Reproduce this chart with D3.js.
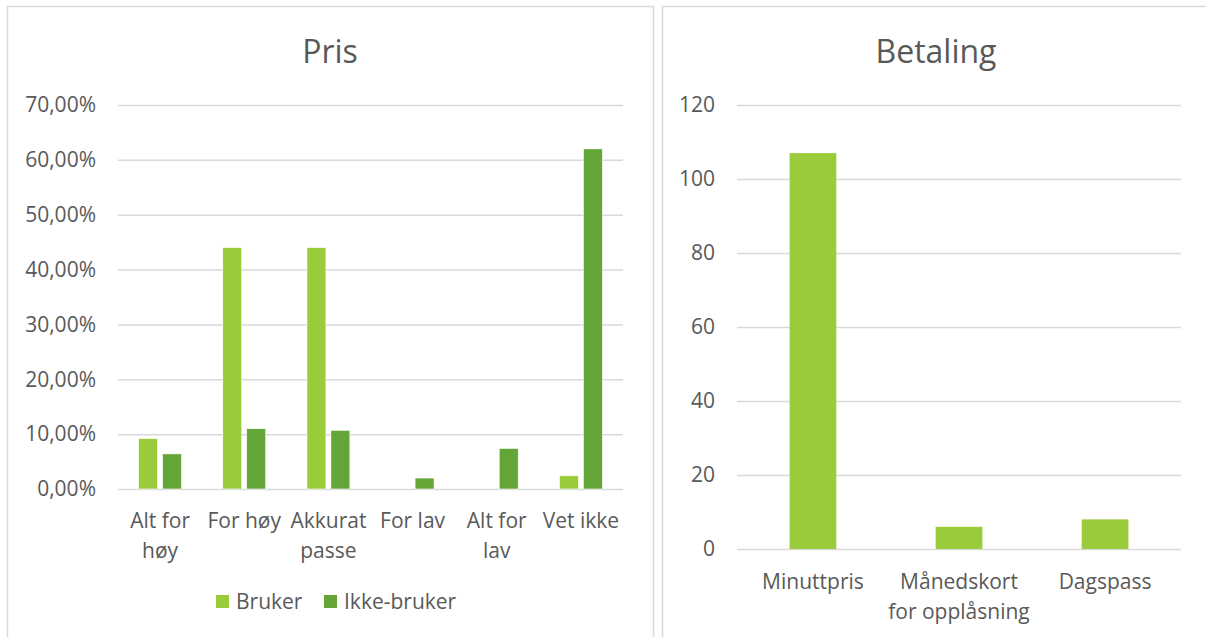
<!DOCTYPE html>
<html>
<head>
<meta charset="utf-8">
<script src="https://cdn.jsdelivr.net/npm/d3@7"></script>
<style>
  html, body { margin: 0; padding: 0; background: #fff; }
  svg { display: block; }
  text { font-family: "Open Sans", "Noto Sans", sans-serif; fill: #595959; }
</style>
</head>
<body>
<svg id="chart" width="1206" height="637"></svg>
<script>
// ---- Data ----
const prisCategories = ["Alt for\nhøy", "For høy", "Akkurat\npasse", "For lav", "Alt for\nlav", "Vet ikke"];
const prisSeries = ["Bruker", "Ikke-bruker"];
const brukerValues = [0.092, 0.44, 0.44, 0, 0, 0.024];
const ikkeBrukerValues = [0.064, 0.110, 0.107, 0.020, 0.074, 0.620];
const prisTicks = [0, 0.1, 0.2, 0.3, 0.4, 0.5, 0.6, 0.7];

const betalingCategories = ["Minuttpris", "Månedskort\nfor opplåsning", "Dagspass"];
const betalingValues = [107, 6, 8];
const betalingTicks = [0, 20, 40, 60, 80, 100, 120];

const colors = { "Bruker": "#9ACB3A", "Ikke-bruker": "#63A537" };
const gridColor = "#D9D9D9";
const labelSize = "21px";
const titleSize = "32px";

const svg = d3.select("#chart");

// Panel borders
svg.append("rect").attr("x", 7.5).attr("y", 6.5).attr("width", 646).attr("height", 660)
  .attr("fill", "none").attr("stroke", gridColor).attr("stroke-width", 1.5);
svg.append("rect").attr("x", 662.5).attr("y", 6.5).attr("width", 580).attr("height", 660)
  .attr("fill", "none").attr("stroke", gridColor).attr("stroke-width", 1.5);

const pctFmt = v => d3.format(".2f")(v * 100).replace(".", ",") + "%";

function multiline(sel, baseY, lineH) {
  sel.each(function(d) {
    const t = d3.select(this);
    String(d).split("\n").forEach((ln, i) => {
      t.append("tspan").attr("x", 0).attr("y", baseY + i * lineH).text(ln);
    });
  });
}

// ---- Left chart: Pris ----
{
  const x = d3.scaleBand().domain(prisCategories).range([118, 623]).paddingInner(0.49).paddingOuter(0.245);
  const xs = d3.scaleBand().domain(prisSeries).range([0, x.bandwidth()]).paddingInner(0.208);
  const y = d3.scaleLinear().domain([0, 0.7]).range([489, 105]);

  svg.append("text").attr("x", 330).attr("y", 63).attr("text-anchor", "middle")
    .style("font-size", titleSize).text("Pris");

  const yAxis = svg.append("g").attr("transform", "translate(118,0)")
    .call(d3.axisLeft(y).tickValues(prisTicks).tickFormat(pctFmt).tickSize(-505).tickPadding(22));
  yAxis.select(".domain").remove();
  yAxis.selectAll("line").attr("stroke", gridColor).attr("stroke-width", 1.5);
  yAxis.selectAll("text").style("font-size", labelSize).attr("fill", "#595959").attr("font-family", null);

  const rows = prisCategories.map((c, i) => ({ cat: c, vals: [brukerValues[i], ikkeBrukerValues[i]] }));
  const g = svg.append("g");
  rows.forEach(r => {
    prisSeries.forEach((s, j) => {
      const v = r.vals[j];
      if (v <= 0) return;
      g.append("rect")
        .attr("x", x(r.cat) + xs(s)).attr("width", xs.bandwidth())
        .attr("y", y(v)).attr("height", y(0) - y(v))
        .attr("fill", colors[s]).attr("stroke", "#fff").attr("stroke-width", 0.6);
    });
  });

  svg.append("g").selectAll("text").data(prisCategories).enter().append("text")
    .attr("transform", d => `translate(${x(d) + x.bandwidth() / 2},0)`)
    .attr("text-anchor", "middle").style("font-size", labelSize)
    .call(multiline, 528, 30);

  // Legend
  const leg = svg.append("g");
  const legItems = [{ s: "Bruker", x: 216 }, { s: "Ikke-bruker", x: 324 }];
  legItems.forEach(it => {
    leg.append("rect").attr("x", it.x).attr("y", 595).attr("width", 13).attr("height", 13).attr("fill", colors[it.s]);
    leg.append("text").attr("x", it.x + 20).attr("y", 609).style("font-size", labelSize).text(it.s);
  });
}

// ---- Right chart: Betaling ----
{
  const x = d3.scaleBand().domain(betalingCategories).range([737, 1181]).paddingInner(0.68).paddingOuter(0.36);
  const y = d3.scaleLinear().domain([0, 120]).range([549, 105]);

  svg.append("text").attr("x", 936).attr("y", 63).attr("text-anchor", "middle")
    .style("font-size", titleSize).text("Betaling");

  const yAxis = svg.append("g").attr("transform", "translate(737,0)")
    .call(d3.axisLeft(y).tickValues(betalingTicks).tickSize(-444).tickPadding(22));
  yAxis.select(".domain").remove();
  yAxis.selectAll("line").attr("stroke", gridColor).attr("stroke-width", 1.5);
  yAxis.selectAll("text").style("font-size", labelSize).attr("fill", "#595959").attr("font-family", null);

  svg.append("g").selectAll("rect").data(betalingCategories).enter().append("rect")
    .attr("x", d => x(d)).attr("width", x.bandwidth())
    .attr("y", (d, i) => y(betalingValues[i])).attr("height", (d, i) => y(0) - y(betalingValues[i]))
    .attr("fill", colors["Bruker"]);

  svg.append("g").selectAll("text").data(betalingCategories).enter().append("text")
    .attr("transform", d => `translate(${x(d) + x.bandwidth() / 2},0)`)
    .attr("text-anchor", "middle").style("font-size", labelSize)
    .call(multiline, 589, 30);
}
</script>
</body>
</html>
